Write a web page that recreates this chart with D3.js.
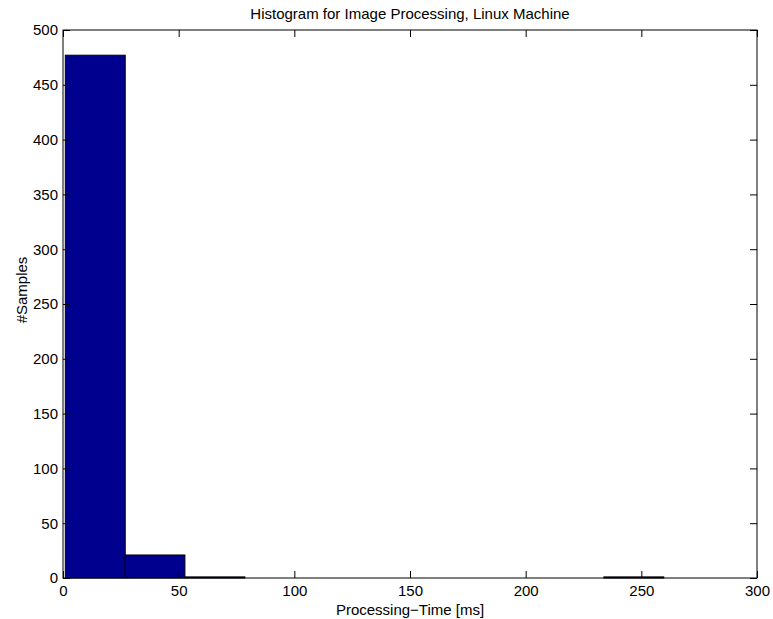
<!DOCTYPE html>
<html>
<head>
<meta charset="utf-8">
<script src="https://cdn.jsdelivr.net/npm/d3@7"></script>
<style>
body { margin: 0; background: #fff; }
text { font-family: "Liberation Sans", Arial, sans-serif; }
</style>
</head>
<body>
<script>
// histogram bins (ms) and sample counts
const binEdges = [1.0, 26.9, 52.7, 78.6, 104.5, 130.4, 156.2, 182.1, 208.0, 233.8, 259.7];
const counts = [477, 21, 1, 0, 0, 0, 0, 0, 0, 1];
const xTicks = [0, 50, 100, 150, 200, 250, 300];
const yTicks = [0, 50, 100, 150, 200, 250, 300, 350, 400, 450, 500];

function main(){
    const canvasWidth = 773;
    const canvasHeight = 619;
    const left = 63, right = 757, top = 30, bottom = 578;

    const svg = d3.select("body").append("svg")
        .attr("width", canvasWidth)
        .attr("height", canvasHeight);

    const xScale = d3.scaleLinear().domain([0, 300]).range([left, right]);
    const yScale = d3.scaleLinear().domain([0, 500]).range([bottom, top]);

    // bars
    svg.selectAll(".bar")
        .data(counts)
        .enter().append("rect")
        .attr("class", "bar")
        .attr("x", (d, i) => xScale(binEdges[i]))
        .attr("width", (d, i) => xScale(binEdges[i + 1]) - xScale(binEdges[i]))
        .attr("y", d => yScale(d))
        .attr("height", d => yScale(0) - yScale(d))
        .attr("fill", "#00008f")
        .attr("stroke", "#000")
        .attr("stroke-width", 1);

    // axes with inward ticks, matlab style box
    const tick = 7;
    svg.append("g")
        .attr("transform", "translate(0," + bottom + ")")
        .call(d3.axisBottom(xScale).tickValues(xTicks).tickSize(-tick).tickPadding(7))
        .call(g => g.select(".domain").remove());
    svg.append("g")
        .attr("transform", "translate(0," + top + ")")
        .call(d3.axisTop(xScale).tickValues(xTicks).tickSize(-tick).tickFormat(""))
        .call(g => g.select(".domain").remove());
    svg.append("g")
        .attr("transform", "translate(" + left + ",0)")
        .call(d3.axisLeft(yScale).tickValues(yTicks).tickSize(-tick).tickPadding(5))
        .call(g => g.select(".domain").remove());
    svg.append("g")
        .attr("transform", "translate(" + right + ",0)")
        .call(d3.axisRight(yScale).tickValues(yTicks).tickSize(-tick).tickFormat(""))
        .call(g => g.select(".domain").remove());

    svg.selectAll(".tick text")
        .attr("font-size", "15px")
        .attr("font-family", "Liberation Sans, Arial, sans-serif")
        .attr("fill", "#000");
    svg.selectAll(".tick line").attr("stroke", "#000");

    svg.append("rect")
        .attr("x", left).attr("y", top)
        .attr("width", right - left).attr("height", bottom - top)
        .attr("fill", "none")
        .attr("stroke", "#000")
        .attr("stroke-width", 1);

    // title and labels
    svg.append("text")
        .attr("x", (left + right) / 2)
        .attr("y", 19)
        .attr("text-anchor", "middle")
        .attr("font-size", "15px")
        .text("Histogram for Image Processing, Linux Machine");

    svg.append("text")
        .attr("x", (left + right) / 2)
        .attr("y", 615)
        .attr("text-anchor", "middle")
        .attr("font-size", "15px")
        .text("Processing\u2212Time [ms]");

    svg.append("text")
        .attr("transform", "translate(27,290) rotate(-90)")
        .attr("text-anchor", "middle")
        .attr("font-size", "15px")
        .text("#Samples");
}
main();
</script>
</body>
</html>
